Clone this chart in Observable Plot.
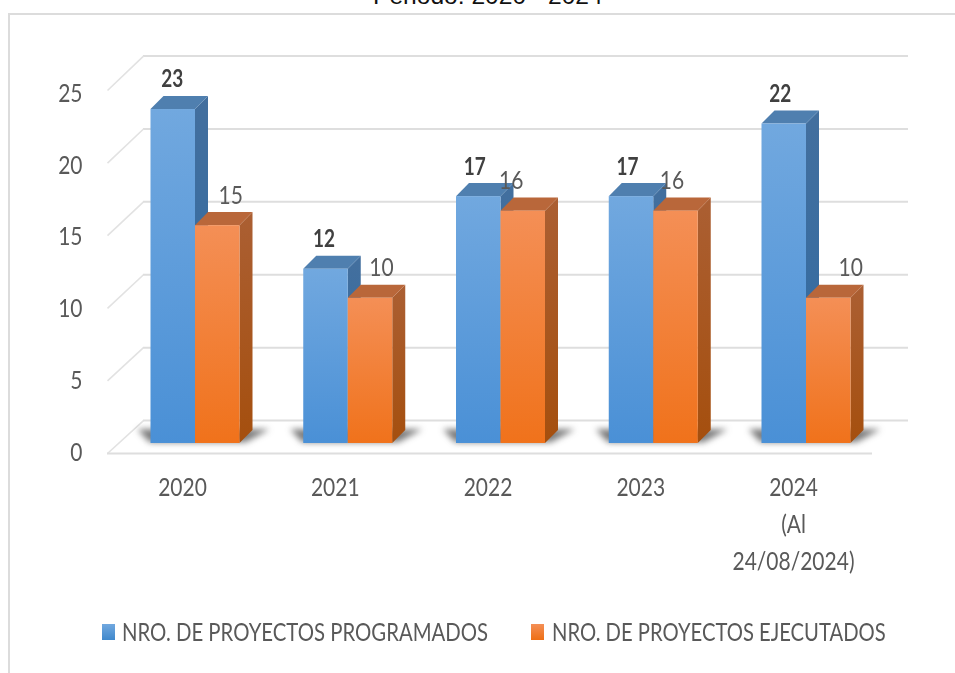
<!DOCTYPE html>
<html>
<head>
<meta charset="utf-8">
<script src="https://cdn.jsdelivr.net/npm/d3@7"></script>
<script src="https://cdn.jsdelivr.net/npm/@observablehq/plot@0.6"></script>
<style>
  html, body { margin: 0; padding: 0; background: #fff; height: 673px; overflow: hidden; }
  body { font-family: Lato, sans-serif; }
  #title { height: 13px; overflow: hidden; position: relative; }
  #title span { position: absolute; left: 373px; bottom: 4px; font: 24.6px/1 "Liberation Sans", sans-serif; color: #111; white-space: nowrap; }
  #frame { margin-left: 8px; border-top: 2px solid #dcdcdc; border-left: 2px solid #dcdcdc; height: 658px; }
  #frame svg { display: block; filter: blur(0.4px); }
  #legend { position: relative; height: 30px; color: #595959; font-size: 25px; line-height: 30px; white-space: nowrap; top: 1px; filter: blur(0.4px); }
  #legend i { position: absolute; top: 8px; width: 13px; height: 16px; }
  #legend span { position: absolute; top: 0; transform-origin: left center; }
  .shadow { filter: blur(3px); }
</style>
</head>
<body>
<div id="title"><span>Periodo: 2020 - 2024</span></div>
<div id="frame"></div>
<script>
// --- chart values ---
const years = ["2020", "2021", "2022", "2023", "2024\n(Al\n24/08/2024)"];
const programados = [23, 12, 17, 17, 22];
const ejecutados = [15, 10, 16, 16, 10];
const yTicks = [0, 5, 10, 15, 20, 25];
const seriesNames = ["NRO. DE PROYECTOS PROGRAMADOS", "NRO. DE PROYECTOS EJECUTADOS"];

// --- layout of the pseudo-3D projection (in scale units) ---
const W = 945, H = 600;
const step = 152.75, origin = 185;          // px per category, px of category 0 in the svg
const barW = 44.5 / step;                   // width of one bar
const barDX = 13 / step, barDY = 0.9;       // depth of a bar
const baseV = 0.69;                         // bars stand this far behind the front of the floor
const wallDX = 36 / step, wallDY = 2.27;    // depth of the wall
const wallL = -88 / step, wallR = 677 / step;
const labelNudgeA = [-1, -2, -4, -4, -4];
const labelNudgeB = [13, 11, -12, -4, 22];
const squeeze = 0.84, squeezeBold = 0.76;   // the reference text is horizontally condensed

const xPos = years.map((_, i) => i);
const bars = (values, off) => values.map((v, i) => ({
  i, v, x1: i + off, x2: i + off + barW, y1: baseV, y2: v + baseV
}));
const barsA = bars(programados, -barW);
const barsB = bars(ejecutados, 0);

const sideRows = rows => rows.flatMap(b => [
  {k: b.i, x: b.x2, lo: b.y1, hi: b.y2},
  {k: b.i, x: b.x2 + barDX, lo: b.y1 + barDY, hi: b.y2 + barDY}
]);
const topRows = rows => rows.flatMap(b => [
  {k: b.i, y: b.y2, l: b.x1, r: b.x2},
  {k: b.i, y: b.y2 + barDY, l: b.x1 + barDX, r: b.x2 + barDX}
]);
const shadowRows = years.flatMap((_, i) => [
  {k: i, y: baseV + 0.05, l: i - barW - 1 / step, r: i + barW + 6 / step},
  {k: i, y: baseV + 0.95, l: i - barW - 13 / step, r: i + barW + 30 / step}
]);

const gradient = (id, top, bottom) =>
  `<linearGradient id="${id}" x1="0" y1="0" x2="0" y2="1"><stop offset="0" stop-color="${top}"/><stop offset="1" stop-color="${bottom}"/></linearGradient>`;

const defsMark = () => {
  const s = d3.create("svg:defs");
  s.html(
    gradient("blueFront", "#71A8DF", "#4A90D6") +
    gradient("orangeFront", "#F48F56", "#F0721B") +
    gradient("blueSide", "#436F9E", "#2F6BA3") +
    gradient("orangeSide", "#AB5F33", "#A54F0E")
  );
  return s.node();
};

const faces = (rows, front, side, top) => [
  Plot.areaY(sideRows(rows), {x: "x", y1: "lo", y2: "hi", z: "k", fill: `url(#${side})`, curve: "linear"}),
  Plot.areaX(topRows(rows), {y: "y", x1: "l", x2: "r", z: "k", fill: top, curve: "linear"}),
  Plot.rect(rows, {x1: "x1", x2: "x2", y1: "y1", y2: "y2", fill: `url(#${front})`})
];

const chart = Plot.plot({
  width: W, height: H,
  marginTop: 0, marginRight: 0, marginBottom: 0, marginLeft: 0,
  style: {background: "transparent", fontFamily: "Lato, sans-serif", overflow: "hidden"},
  x: {type: "linear", domain: [-origin / step, (W - origin) / step], range: [0, W], axis: null},
  y: {type: "linear", domain: [0, 30], range: [438, 2.4], axis: null},
  marks: [
    defsMark,
    // back wall and left wall
    Plot.ruleY(yTicks, {y: v => v * 1.004 + wallDY, x1: wallL + wallDX, x2: wallR + wallDX, stroke: "#dedede", strokeWidth: 2}),
    Plot.link(yTicks, {x1: wallL, x2: wallL + wallDX, y1: v => v, y2: v => v * 1.004 + wallDY, stroke: "#e2e2e2", strokeWidth: 1.6}),
    // front edge of the floor
    Plot.ruleY([0], {x1: wallL, x2: wallR, stroke: "#dedede", strokeWidth: 2}),
    // floor shadow
    Plot.areaX(shadowRows, {y: "y", x1: "l", x2: "r", z: "k", fill: "#333", fillOpacity: 0.65, curve: "linear", className: "shadow"}),
    // bars
    ...faces(barsA, "blueFront", "blueSide", "#4F7FAF"),
    ...faces(barsB, "orangeFront", "orangeSide", "#B9673A"),
    // value labels
    Plot.text(barsA, {x: d => d.i - barW / 2 + labelNudgeA[d.i] / step, y: d => d.y2 + barDY, text: d => String(d.v),
      dy: -17, fontSize: 25, fontWeight: "bold", fill: "#404040"}),
    Plot.text(barsB, {x: d => d.i + barW / 2 + labelNudgeB[d.i] / step, y: d => d.y2 + barDY, text: d => String(d.v),
      dy: -17, fontSize: 25, fill: "#595959"}),
    // y tick labels
    Plot.text(yTicks, {x: wallL, y: v => v * 0.988, text: String, textAnchor: "end", dx: -25, dy: -1, fontSize: 25, fill: "#595959"}),
    // x tick labels
    Plot.text(xPos, {x: i => i, y: 0, text: i => years[i], dx: -13, dy: 16, lineAnchor: "top", lineHeight: 1.48, fontSize: 25, fill: "#595959"})
  ]
});

const frame = document.getElementById("frame");
frame.appendChild(chart);

const legend = document.createElement("div");
legend.id = "legend";
const swatch = (left, top, bottom) => {
  const el = document.createElement("i");
  el.style.left = left + "px";
  el.style.background = `linear-gradient(${top}, ${bottom})`;
  return el;
};
const entry = (left, text) => {
  const el = document.createElement("span");
  el.style.left = left + "px";
  el.textContent = text;
  return el;
};
const entryA = entry(112, seriesNames[0]);
const entryB = entry(542, seriesNames[1]);
legend.append(
  swatch(92, "#71A8DF", "#3F88CC"),
  entryA,
  swatch(521, "#F48F56", "#EE6F15"),
  entryB
);
frame.appendChild(legend);

// Condense the text horizontally, as in the reference.
const condense = () => {
  chart.querySelectorAll("text, tspan").forEach(t => {
    if (t.tagName === "text" && t.querySelector("tspan")) return;
    const bold = Number(getComputedStyle(t).fontWeight) >= 600;
    t.setAttribute("textLength", t.getComputedTextLength() * (bold ? squeezeBold : squeeze));
    t.setAttribute("lengthAdjust", "spacingAndGlyphs");
  });
  entryA.style.transform = `scaleX(${366 / entryA.offsetWidth})`;
  entryB.style.transform = `scaleX(${334 / entryB.offsetWidth})`;
};
condense();
</script>
</body>
</html>
